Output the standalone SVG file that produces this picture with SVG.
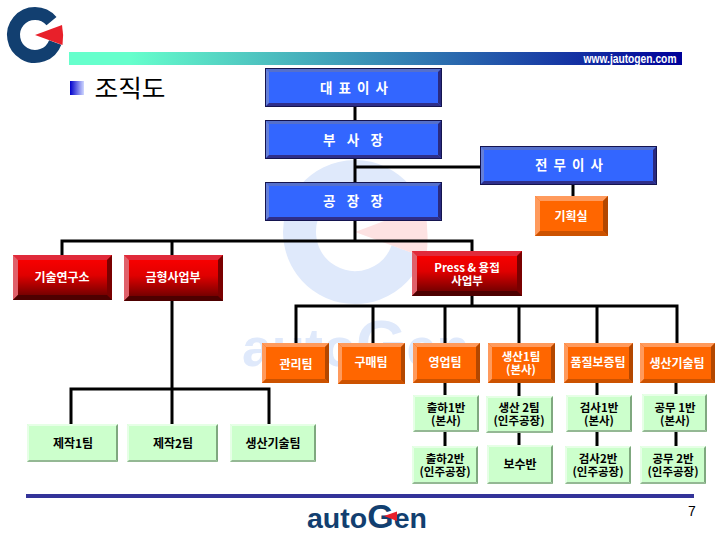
<svg xmlns="http://www.w3.org/2000/svg" width="720" height="540" viewBox="0 0 720 540">
<style>
text{font-family:"Noto Sans CJK KR","Noto Sans",sans-serif;font-weight:700;text-anchor:middle}
.w{fill:#fff;font-size:12px}
.k{fill:#000;font-size:12px}
.two{font-size:11.500px}
.b{fill:#fff;font-size:13.500px}
.lat{font-family:"Liberation Sans",sans-serif}
.wire{fill:none;stroke:#000;stroke-width:3}
.bb{fill:#3366ff;stroke:#14144f;stroke-width:1}
.bl{fill:#6680d9}.bt{fill:#5570cc}.br{fill:#2a2a80}.bo{fill:#2f2f8a}
.rb{fill:url(#red)}
.rl{fill:#e0606a}.rt{fill:#e02a3a}.rr{fill:#7a0000}.ro{fill:#4d0000}
.ob{fill:#ff6600}
.ol{fill:#ff9a5c}.ot{fill:#ff9a5c}.or{fill:#b34700}.oo{fill:#cc5200}
.gb{fill:#ccffcc}
.gl{fill:#e6ffe6}.gt{fill:#e6ffe6}.gr{fill:#7fa87f}.go{fill:#94b894}
</style>
<defs>
<linearGradient id="bar"><stop offset="0" stop-color="#66ffcc"/><stop offset="0.1" stop-color="#66ffcc"/><stop offset="1" stop-color="#000099"/></linearGradient>
<linearGradient id="bul"><stop offset="0" stop-color="#0000cc"/><stop offset="1" stop-color="#d0d8ff"/></linearGradient>
<linearGradient id="red" x1="0" y1="0" x2="0" y2="1"><stop offset="0" stop-color="#ff0000"/><stop offset="0.45" stop-color="#e00000"/><stop offset="1" stop-color="#5c0000"/></linearGradient>
</defs>

<g id="watermark">
<path d="M397.500 196.300A55.500 55.500 0 1 0 407.200 251" fill="none" stroke="#dfe9fb" stroke-width="33"/>
<path d="M355 232L424 206Q430 232 426 258Z" fill="#fde2e2"/>
<text class="lat" y="366" fill="#dfe9fb" style="text-anchor:start"><tspan x="242" font-size="54">auto</tspan><tspan font-size="65">G</tspan><tspan font-size="54">en</tspan></text>
</g>

<g id="logo">
<path d="M51.500 21.200A21.500 21.500 0 1 0 55.200 42.400" fill="none" stroke="#123f70" stroke-width="13"/>
<path d="M35 35L62 25Q64 35 62.500 45Z" fill="#e8202a"/>
</g>
<rect id="header-bar" x="69" y="52" width="613" height="13" fill="url(#bar)"/>
<text class="lat" x="630" y="63" fill="#fff" font-size="12" textLength="93" lengthAdjust="spacingAndGlyphs">www.jautogen.com</text>
<rect x="70" y="81" width="14" height="14" fill="url(#bul)"/>
<text x="130" y="97" font-size="24" fill="#000" style="font-weight:400" textLength="71" lengthAdjust="spacingAndGlyphs">조직도</text>

<g id="connectors" class="wire">
<path d="M355 107V120M355 158V182M355 221V241M355 167H480M573 184V196"/>
<path d="M62 255V241H472V251M172 241V255M172 301V424M71 424V389H269V424"/>
<path d="M472 296V306M296 343V306H677V343M373 306V343M445 306V343M519 306V343M597 306V343"/>
<path d="M445 383V395M445 432V446M519 383V396M519 433V445M597 383V395M597 432V446M676 383V394M676 432V446"/>
</g>

<g id="ceo"><rect class="bb" x="265.500" y="68.500" width="176" height="38"/><path class="bt" d="M266 69H441L438 72H269Z"/><path class="bl" d="M266 69L269 72V103L266 106Z"/><path class="br" d="M441 69L438 72V103L441 106Z"/><path class="bo" d="M266 106L269 103H438L441 106Z"/><text class="b" x="354" y="93" textLength="68">대 표 이 사</text></g>
<g id="vp"><rect class="bb" x="265.500" y="120.500" width="176" height="38"/><path class="bt" d="M266 121H441L438 124H269Z"/><path class="bl" d="M266 121L269 124V155L266 158Z"/><path class="br" d="M441 121L438 124V155L441 158Z"/><path class="bo" d="M266 158L269 155H438L441 158Z"/><text class="b" x="353" y="144.500" textLength="60">부 사 장</text></g>
<g id="director"><rect class="bb" x="480.500" y="146.500" width="176" height="38"/><path class="bt" d="M481 147H656L653 150H484Z"/><path class="bl" d="M481 147L484 150V181L481 184Z"/><path class="br" d="M656 147L653 150V181L656 184Z"/><path class="bo" d="M481 184L484 181H653L656 184Z"/><text class="b" x="569" y="170" textLength="68">전 무 이 사</text></g>
<g id="plant"><rect class="bb" x="265.500" y="182.500" width="176" height="38"/><path class="bt" d="M266 183H441L438 186H269Z"/><path class="bl" d="M266 183L269 186V217L266 220Z"/><path class="br" d="M441 183L438 186V217L441 220Z"/><path class="bo" d="M266 220L269 217H438L441 220Z"/><text class="b" x="353" y="206" textLength="60">공 장 장</text></g>

<g id="planning"><rect class="ob" x="535" y="196" width="73" height="40"/><path class="ot" d="M535 196H608L603 201H540Z"/><path class="ol" d="M535 196L540 201V231L535 236Z"/><path class="or" d="M608 196L603 201V231L608 236Z"/><path class="oo" d="M535 236L540 231H603L608 236Z"/><text class="w" x="571" y="220.500">기획실</text></g>

<g id="rnd"><rect class="rb" x="13" y="255" width="99" height="45"/><path class="rt" d="M13 255H112L107 260H18Z"/><path class="rl" d="M13 255L18 260V295L13 300Z"/><path class="rr" d="M112 255L107 260V295L112 300Z"/><path class="ro" d="M13 300L18 295H107L112 300Z"/><text class="w" x="62" y="281.500">기술연구소</text></g>
<g id="mold"><rect class="rb" x="124" y="255" width="99" height="46"/><path class="rt" d="M124 255H223L218 260H129Z"/><path class="rl" d="M124 255L129 260V296L124 301Z"/><path class="rr" d="M223 255L218 260V296L223 301Z"/><path class="ro" d="M124 301L129 296H218L223 301Z"/><text class="w" x="173" y="281.500">금형사업부</text></g>
<g id="press"><rect class="rb" x="412" y="251" width="110" height="45"/><path class="rt" d="M412 251H522L517 256H417Z"/><path class="rl" d="M412 251L417 256V291L412 296Z"/><path class="rr" d="M522 251L517 256V291L522 296Z"/><path class="ro" d="M412 296L417 291H517L522 296Z"/><text class="w two"><tspan x="467" y="271.500">Press &amp; 용접</tspan><tspan x="467" y="284.500">사업부</tspan></text></g>

<g id="t-admin"><rect class="ob" x="262" y="343" width="67" height="40"/><path class="ot" d="M262 343H329L325 347H266Z"/><path class="ol" d="M262 343L266 347V379L262 383Z"/><path class="or" d="M329 343L325 347V379L329 383Z"/><path class="oo" d="M262 383L266 379H325L329 383Z"/><text class="w" x="296" y="369">관리팀</text></g>
<g id="t-purchase"><rect class="ob" x="338" y="343" width="67" height="41"/><path class="ot" d="M338 343H405L401 347H342Z"/><path class="ol" d="M338 343L342 347V380L338 384Z"/><path class="or" d="M405 343L401 347V380L405 384Z"/><path class="oo" d="M338 384L342 380H401L405 384Z"/><text class="w" x="371" y="367">구매팀</text></g>
<g id="t-sales"><rect class="ob" x="413" y="343" width="67" height="40"/><path class="ot" d="M413 343H480L476 347H417Z"/><path class="ol" d="M413 343L417 347V379L413 383Z"/><path class="or" d="M480 343L476 347V379L480 383Z"/><path class="oo" d="M413 383L417 379H476L480 383Z"/><text class="w" x="445" y="366.500">영업팀</text></g>
<g id="t-prod1"><rect class="ob" x="488" y="343" width="67" height="40"/><path class="ot" d="M488 343H555L551 347H492Z"/><path class="ol" d="M488 343L492 347V379L488 383Z"/><path class="or" d="M555 343L551 347V379L555 383Z"/><path class="oo" d="M488 383L492 379H551L555 383Z"/><text class="w two"><tspan x="521" y="361">생산1팀</tspan><tspan x="521" y="374">(본사)</tspan></text></g>
<g id="t-qa"><rect class="ob" x="564" y="343" width="69" height="40"/><path class="ot" d="M564 343H633L629 347H568Z"/><path class="ol" d="M564 343L568 347V379L564 383Z"/><path class="or" d="M633 343L629 347V379L633 383Z"/><path class="oo" d="M564 383L568 379H629L633 383Z"/><text class="w" x="598" y="366.500">품질보증팀</text></g>
<g id="t-tech"><rect class="ob" x="640" y="343" width="75" height="40"/><path class="ot" d="M640 343H715L711 347H644Z"/><path class="ol" d="M640 343L644 347V379L640 383Z"/><path class="or" d="M715 343L711 347V379L715 383Z"/><path class="oo" d="M640 383L644 379H711L715 383Z"/><text class="w" x="677" y="367.500">생산기술팀</text></g>

<g id="s-ship1"><rect class="gb" x="413" y="395" width="66" height="37"/><path class="gt" d="M413 395H479L477 397H415Z"/><path class="gl" d="M413 395L415 397V430L413 432Z"/><path class="gr" d="M479 395L477 397V430L479 432Z"/><path class="go" d="M413 432L415 430H477L479 432Z"/><text class="k two"><tspan x="446" y="412">출하1반</tspan><tspan x="446" y="425">(본사)</tspan></text></g>
<g id="s-prod2"><rect class="gb" x="486" y="396" width="67" height="37"/><path class="gt" d="M486 396H553L551 398H488Z"/><path class="gl" d="M486 396L488 398V431L486 433Z"/><path class="gr" d="M553 396L551 398V431L553 433Z"/><path class="go" d="M486 433L488 431H551L553 433Z"/><text class="k two"><tspan x="519" y="412">생산 2팀</tspan><tspan x="519" y="425">(인주공장)</tspan></text></g>
<g id="s-check1"><rect class="gb" x="566" y="395" width="66" height="37"/><path class="gt" d="M566 395H632L630 397H568Z"/><path class="gl" d="M566 395L568 397V430L566 432Z"/><path class="gr" d="M632 395L630 397V430L632 432Z"/><path class="go" d="M566 432L568 430H630L632 432Z"/><text class="k two"><tspan x="599" y="412">검사1반</tspan><tspan x="599" y="425">(본사)</tspan></text></g>
<g id="s-main1"><rect class="gb" x="642" y="394" width="65" height="38"/><path class="gt" d="M642 394H707L705 396H644Z"/><path class="gl" d="M642 394L644 396V430L642 432Z"/><path class="gr" d="M707 394L705 396V430L707 432Z"/><path class="go" d="M642 432L644 430H705L707 432Z"/><text class="k two"><tspan x="675" y="412">공무 1반</tspan><tspan x="675" y="425">(본사)</tspan></text></g>
<g id="s-ship2"><rect class="gb" x="412" y="446" width="66" height="38"/><path class="gt" d="M412 446H478L476 448H414Z"/><path class="gl" d="M412 446L414 448V482L412 484Z"/><path class="gr" d="M478 446L476 448V482L478 484Z"/><path class="go" d="M412 484L414 482H476L478 484Z"/><text class="k two"><tspan x="445" y="462.500">출하2반</tspan><tspan x="445" y="475.500">(인주공장)</tspan></text></g>
<g id="s-repair"><rect class="gb" x="487" y="445" width="66" height="39"/><path class="gt" d="M487 445H553L551 447H489Z"/><path class="gl" d="M487 445L489 447V482L487 484Z"/><path class="gr" d="M553 445L551 447V482L553 484Z"/><path class="go" d="M487 484L489 482H551L553 484Z"/><text class="k" x="520" y="468.500">보수반</text></g>
<g id="s-check2"><rect class="gb" x="565" y="446" width="66" height="38"/><path class="gt" d="M565 446H631L629 448H567Z"/><path class="gl" d="M565 446L567 448V482L565 484Z"/><path class="gr" d="M631 446L629 448V482L631 484Z"/><path class="go" d="M565 484L567 482H629L631 484Z"/><text class="k two"><tspan x="598" y="462.500">검사2반</tspan><tspan x="598" y="475.500">(인주공장)</tspan></text></g>
<g id="s-main2"><rect class="gb" x="640" y="446" width="66" height="38"/><path class="gt" d="M640 446H706L704 448H642Z"/><path class="gl" d="M640 446L642 448V482L640 484Z"/><path class="gr" d="M706 446L704 448V482L706 484Z"/><path class="go" d="M640 484L642 482H704L706 484Z"/><text class="k two"><tspan x="673" y="462.500">공무 2반</tspan><tspan x="673" y="475.500">(인주공장)</tspan></text></g>
<g id="s-make1"><rect class="gb" x="27" y="424" width="91" height="38"/><path class="gt" d="M27 424H118L116 426H29Z"/><path class="gl" d="M27 424L29 426V460L27 462Z"/><path class="gr" d="M118 424L116 426V460L118 462Z"/><path class="go" d="M27 462L29 460H116L118 462Z"/><text class="k" x="73" y="448">제작1팀</text></g>
<g id="s-make2"><rect class="gb" x="127" y="424" width="91" height="38"/><path class="gt" d="M127 424H218L216 426H129Z"/><path class="gl" d="M127 424L129 426V460L127 462Z"/><path class="gr" d="M218 424L216 426V460L218 462Z"/><path class="go" d="M127 462L129 460H216L218 462Z"/><text class="k" x="173" y="448">제작2팀</text></g>
<g id="s-tech"><rect class="gb" x="230" y="424" width="86" height="38"/><path class="gt" d="M230 424H316L314 426H232Z"/><path class="gl" d="M230 424L232 426V460L230 462Z"/><path class="gr" d="M316 424L314 426V460L316 462Z"/><path class="go" d="M230 462L232 460H314L316 462Z"/><text class="k" x="273" y="448">생산기술팀</text></g>

<rect id="footer-line" x="26" y="494" width="668" height="4" fill="#333399"/>
<g id="footer-logo">
<text class="lat" y="527.500" fill="#123f70" style="text-anchor:start"><tspan x="307" font-size="28.500">auto</tspan><tspan font-size="34">G</tspan><tspan font-size="28.500">en</tspan></text>
<path d="M384 516L397 511.500V521Z" fill="#e8202a"/>
</g>
<text class="lat" x="692" y="516" font-size="14" fill="#000" style="font-weight:400">7</text>
</svg>
